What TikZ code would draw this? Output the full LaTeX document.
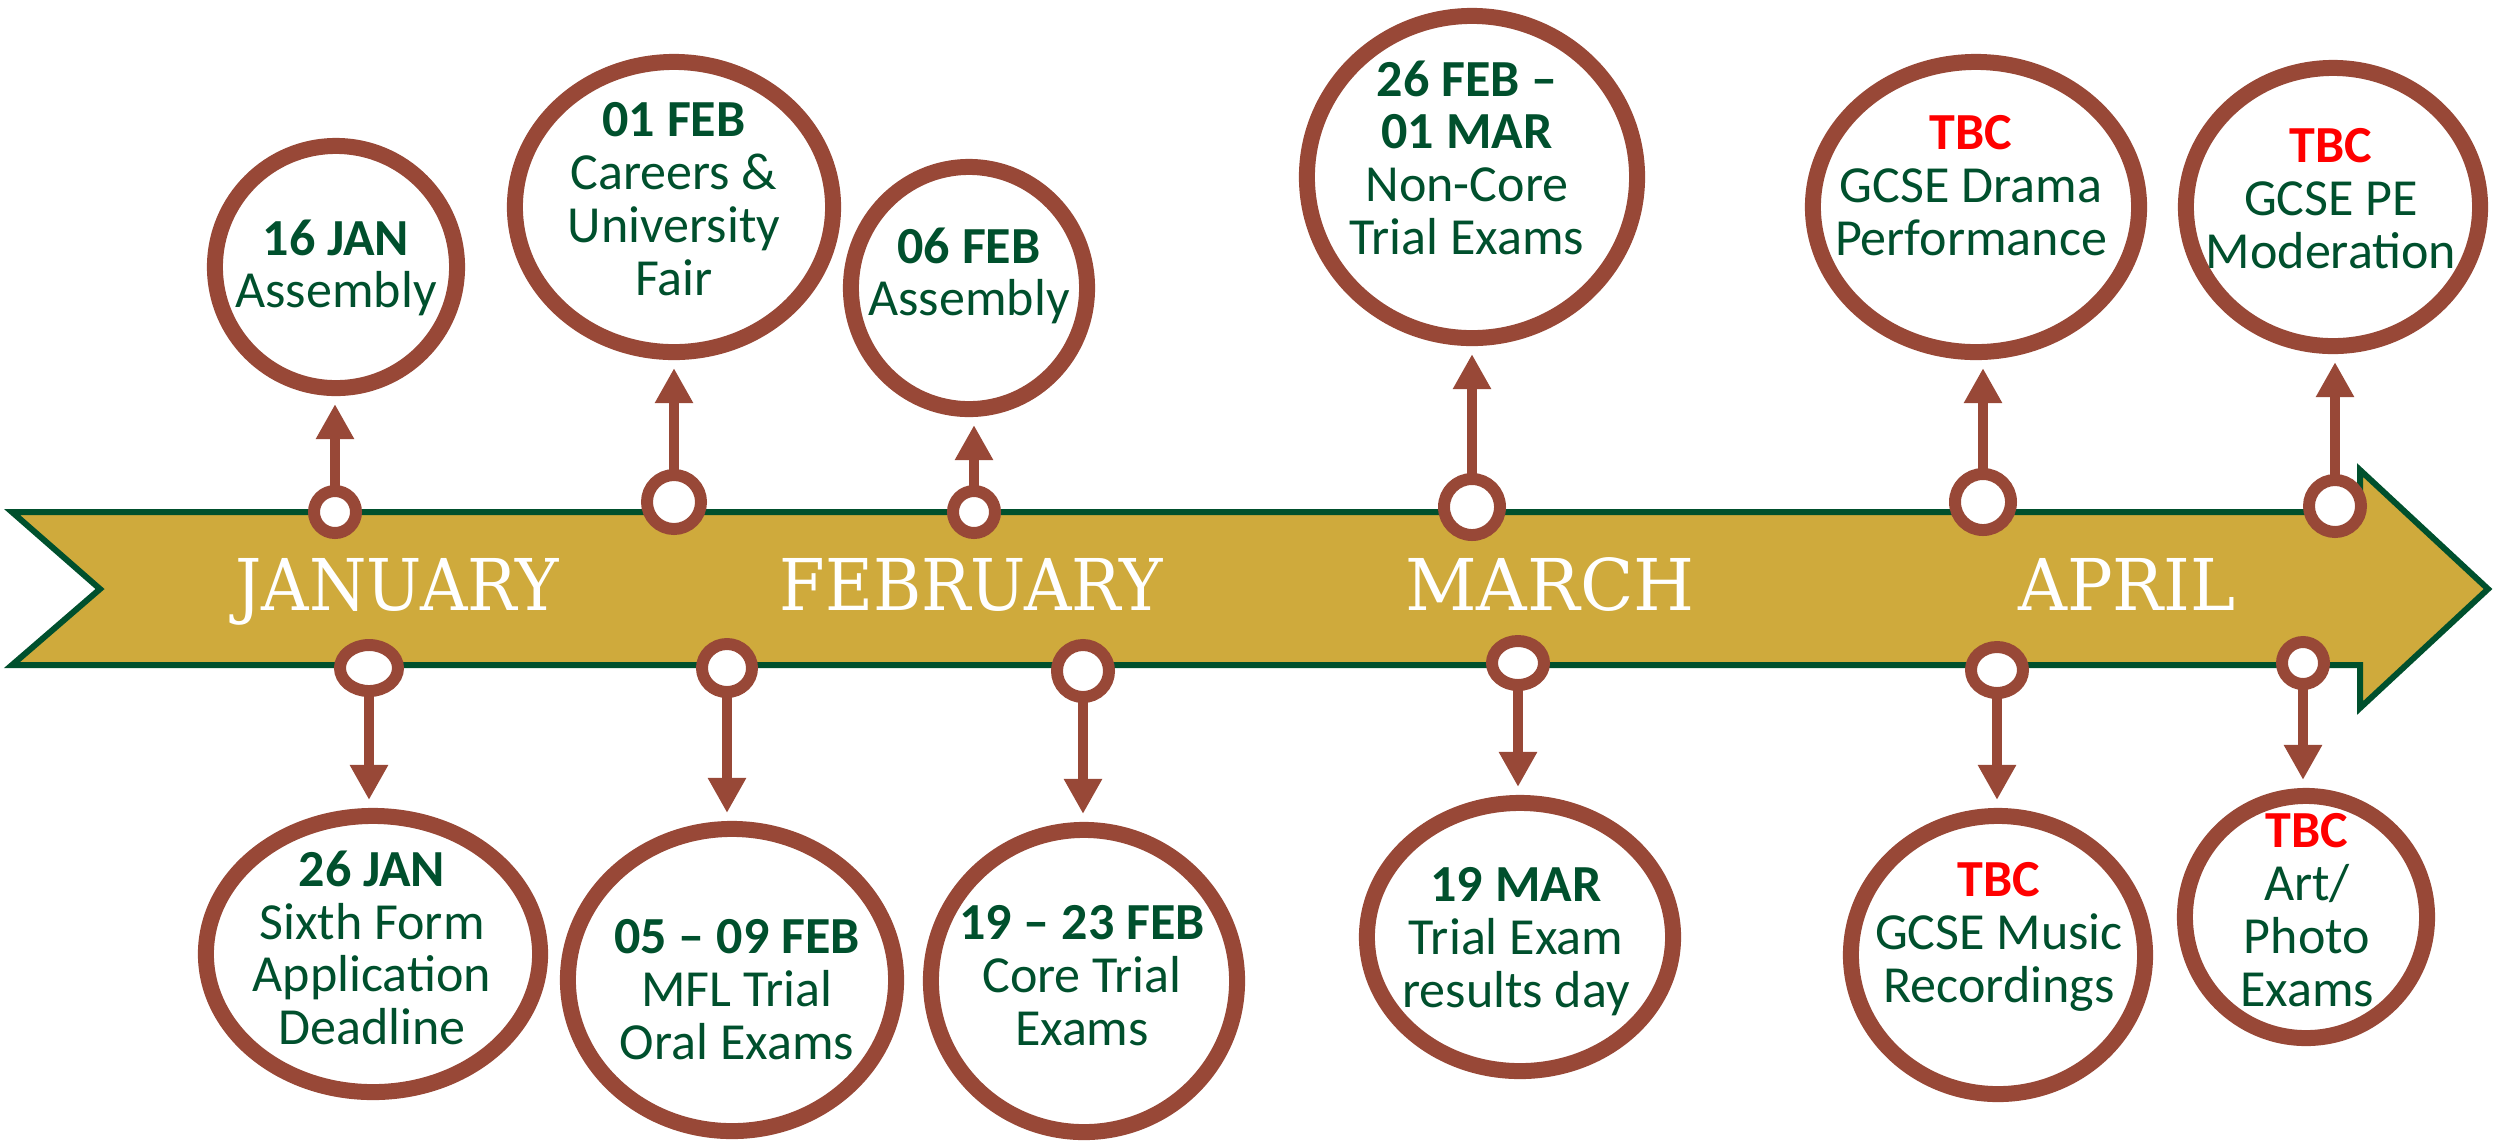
\documentclass[tikz,border=0pt]{standalone}
\usepackage{fontspec}
\usepackage{graphicx}
\setmainfont{Carlito}
\newfontfamily\monthfont{DejaVu Serif}
\usetikzlibrary{arrows.meta,shapes.geometric}
\definecolor{evbrown}{HTML}{984837}
\definecolor{evgreen}{HTML}{00502D}
\definecolor{evgold}{HTML}{CFAA3C}
\definecolor{evred}{HTML}{FF0000}
\tikzset{
  banner/.style={draw=evgreen, fill=evgold, line width=1.7pt, miter limit=20},
  bigc/.style={ellipse, draw=evbrown, line width=4.55pt, fill=white, inner sep=0pt, outer sep=0pt},
  ringc/.style={ellipse, draw=evbrown, line width=3.4pt, fill=white, inner sep=0pt, outer sep=0pt},
  evtext/.style={align=center, inner sep=0pt, text=evgreen, font=\fontsize{14.8}{15.0}\selectfont},
  monthtxt/.style={inner sep=0pt, text=white, font=\monthfont\fontsize{20.3}{24}\selectfont},
  evarrow/.style={draw=evbrown, line width=2.85pt, -{Triangle[width=0.36cm,length=0.35cm]}, shorten >=0.16cm},
}
\newcommand{\tbc}{\textcolor{evred}{\textbf{TBC}}}
\begin{document}
\begin{tikzpicture}[x=0.01cm,y=-0.01cm]
\useasboundingbox (0,0) rectangle (2496,1141);
% banner
\draw[banner] (12,512) -- (2360,512) -- (2360,470) -- (2488,589) -- (2360,708) -- (2360,665) -- (12,665) -- (100,589) -- cycle;
% month labels
\node[monthtxt, anchor=base] (mjan) at (397,610) {\scalebox{0.92}[1]{JANUARY}};
\node[monthtxt, anchor=base] (mfeb) at (971,610) {\scalebox{0.92}[1]{FEBRUARY}};
\node[monthtxt, anchor=base] (mmar) at (1550,610) {\scalebox{0.98}[1]{MARCH}};
\node[monthtxt, anchor=base] (mapr) at (2127,610) {\scalebox{0.95}[1]{APRIL}};
% big circles
\node[bigc, minimum width=2.42cm, minimum height=2.42cm] (c1) at (336,267) {};
\node[bigc, minimum width=3.18cm, minimum height=2.90cm] (c2) at (674,207) {};
\node[bigc, minimum width=2.36cm, minimum height=2.42cm] (c3) at (969,288) {};
\node[bigc, minimum width=3.30cm, minimum height=3.22cm] (c4) at (1472,177) {};
\node[bigc, minimum width=3.26cm, minimum height=2.90cm] (c5) at (1976,207) {};
\node[bigc, minimum width=2.94cm, minimum height=2.78cm] (c6) at (2333,207) {};
\node[bigc, minimum width=3.34cm, minimum height=2.76cm] (c7) at (373,954) {};
\node[bigc, minimum width=3.28cm, minimum height=3.02cm] (c8) at (732,980) {};
\node[bigc, minimum width=3.06cm, minimum height=3.02cm] (c9) at (1084,981) {};
\node[bigc, minimum width=3.06cm, minimum height=2.68cm] (c10) at (1520,937) {};
\node[bigc, minimum width=2.94cm, minimum height=2.78cm] (c11) at (1998,955) {};
\node[bigc, minimum width=2.42cm, minimum height=2.42cm] (c12) at (2306,917) {};
% texts
\node[evtext, anchor=north] (t1) at (336,219) {\textbf{16 JAN}\\Assembly};
\node[evtext, anchor=north] (t2) at (674,102) {\textbf{01 FEB}\\Careers \&\\University\\Fair};
\node[evtext, anchor=north] (t3) at (969,227) {\textbf{06 FEB}\\Assembly};
\node[evtext, anchor=north] (t4) at (1467,60) {\textbf{26 FEB –}\\\textbf{01 MAR}\\Non-Core\\Trial Exams};
\node[evtext, anchor=north] (t5) at (1971,115) {\tbc\\GCSE Drama\\Performance};
\node[evtext, anchor=north] (t6) at (2331,128) {\tbc\\GCSE PE\\Moderation};
\node[evtext, anchor=north] (t7) at (372,850) {\textbf{26 JAN}\\Sixth Form\\Application\\Deadline};
\node[evtext, anchor=north] (t8) at (737,919) {\textbf{05 – 09 FEB}\\MFL Trial\\Oral Exams};
\node[evtext, anchor=north] (t9) at (1082,905) {\textbf{19 – 23 FEB}\\Core Trial\\Exams};
\node[evtext, anchor=north] (t10) at (1516,867) {\textbf{19 MAR}\\Trial Exam\\results day};
\node[evtext, anchor=north] (t11) at (1999,862) {\tbc\\GCSE Music\\Recordings};
\node[evtext, anchor=north] (t12) at (2307,813) {\tbc\\Art/\\Photo\\Exams};
% rings
\node[ringc, minimum width=0.42cm, minimum height=0.42cm] (r1) at (335,512) {};
\node[ringc, minimum width=0.54cm, minimum height=0.54cm] (r2) at (674,502) {};
\node[ringc, minimum width=0.42cm, minimum height=0.42cm] (r3) at (974,512) {};
\node[ringc, minimum width=0.56cm, minimum height=0.56cm] (r4) at (1472,507) {};
\node[ringc, minimum width=0.56cm, minimum height=0.56cm] (r5) at (1983,502) {};
\node[ringc, minimum width=0.52cm, minimum height=0.52cm] (r6) at (2335,506) {};
\node[ringc, minimum width=0.58cm, minimum height=0.46cm] (r7) at (369,668) {};
\node[ringc, minimum width=0.50cm, minimum height=0.48cm] (r8) at (727,668) {};
\node[ringc, minimum width=0.52cm, minimum height=0.52cm] (r9) at (1083,671) {};
\node[ringc, minimum width=0.52cm, minimum height=0.44cm] (r10) at (1518,663) {};
\node[ringc, minimum width=0.52cm, minimum height=0.46cm] (r11) at (1997,670) {};
\node[ringc, minimum width=0.42cm, minimum height=0.42cm] (r12) at (2303,663) {};
% arrows
\draw[evarrow] (r1) -- (r1 |- c1.south);
\draw[evarrow] (r2) -- (r2 |- c2.south);
\draw[evarrow] (r3) -- (r3 |- c3.south);
\draw[evarrow] (r4) -- (r4 |- c4.south);
\draw[evarrow] (r5) -- (r5 |- c5.south);
\draw[evarrow] (r6) -- (r6 |- c6.south);
\draw[evarrow] (r7) -- (r7 |- c7.north);
\draw[evarrow] (r8) -- (r8 |- c8.north);
\draw[evarrow] (r9) -- (r9 |- c9.north);
\draw[evarrow] (r10) -- (r10 |- c10.north);
\draw[evarrow] (r11) -- (r11 |- c11.north);
\draw[evarrow] (r12) -- (r12 |- c12.north);
\end{tikzpicture}
\end{document}
